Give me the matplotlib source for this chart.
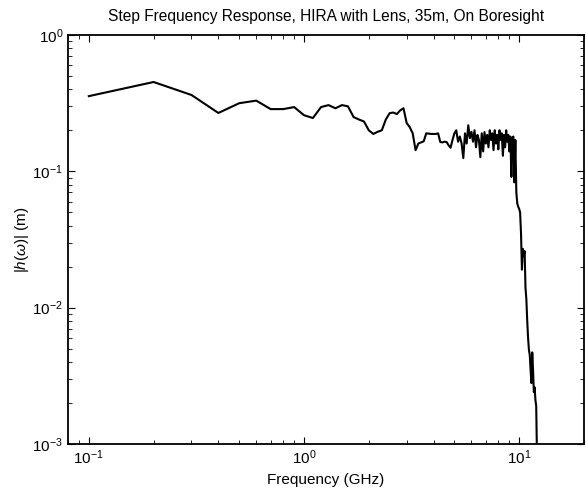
import numpy as np
import matplotlib.pyplot as plt
from matplotlib.ticker import LogLocator, NullFormatter

plt.rcParams['font.family'] = ['Liberation Sans', 'DejaVu Sans']
plt.rcParams['mathtext.fontset'] = 'custom'
plt.rcParams['mathtext.rm'] = 'Liberation Sans'
plt.rcParams['mathtext.it'] = 'Liberation Sans:italic'

# step frequencies (GHz), 0.1 GHz steps
freq = [0.1, 0.2, 0.3, 0.4, 0.5, 0.6, 0.7, 0.8, 0.9, 1.0,
        1.1, 1.2, 1.3, 1.4, 1.5, 1.6, 1.7, 1.8, 1.9, 2.0,
        2.1, 2.2, 2.3, 2.4, 2.5, 2.6, 2.7, 2.8, 2.9, 3.0,
        3.1, 3.2, 3.3, 3.4, 3.5, 3.6, 3.7, 3.8, 3.9, 4.0,
        4.1, 4.2, 4.3, 4.4, 4.5, 4.6, 4.7, 4.8, 4.9, 5.0,
        5.1, 5.2, 5.3, 5.4, 5.5, 5.6, 5.7, 5.8, 5.9, 6.0,
        6.1, 6.2, 6.3, 6.4, 6.5, 6.6, 6.7, 6.8, 6.9, 7.0,
        7.1, 7.2, 7.3, 7.4, 7.5, 7.6, 7.7, 7.8, 7.9, 8.0,
        8.1, 8.2, 8.3, 8.4, 8.5, 8.6, 8.7, 8.8, 8.9, 9.0,
        9.1, 9.2, 9.3, 9.4, 9.5, 9.6, 9.7, 9.8, 9.9, 10.0,
        10.1, 10.2, 10.3, 10.4, 10.5, 10.6, 10.7, 10.8, 10.9, 11.0,
        11.1, 11.2, 11.3, 11.4, 11.5, 11.6, 11.7, 11.8, 11.9, 12.0,
        12.1]

# |h(w)| in metres
mag = [0.356, 0.452, 0.363, 0.268, 0.316, 0.330, 0.286, 0.286, 0.296, 0.258,
       0.246, 0.296, 0.306, 0.290, 0.306, 0.300, 0.250, 0.240, 0.232, 0.200,
       0.188, 0.195, 0.200, 0.240, 0.267, 0.270, 0.263, 0.280, 0.290, 0.226,
       0.211, 0.190, 0.143, 0.160, 0.163, 0.166, 0.190, 0.189, 0.188, 0.188,
       0.188, 0.190, 0.164, 0.163, 0.165, 0.164, 0.155, 0.149, 0.170, 0.190,
       0.200, 0.165, 0.180, 0.160, 0.125, 0.190, 0.160, 0.218, 0.175, 0.195,
       0.165, 0.200, 0.150, 0.185, 0.170, 0.127, 0.190, 0.140, 0.194, 0.160,
       0.185, 0.150, 0.200, 0.170, 0.190, 0.143, 0.200, 0.160, 0.185, 0.145,
       0.200, 0.170, 0.190, 0.130, 0.185, 0.150, 0.200, 0.165, 0.185, 0.140,
       0.180, 0.091, 0.175, 0.180, 0.083, 0.170, 0.070, 0.058, 0.055, 0.053,
       0.050, 0.035, 0.019, 0.027, 0.024, 0.026, 0.014, 0.0115, 0.008, 0.006,
       0.0049, 0.0045, 0.0035, 0.0028, 0.0047, 0.0035, 0.0024, 0.0026, 0.0021, 0.0019,
       0.0008]

fig = plt.figure(figsize=(5.86, 4.97), dpi=100)
ax = fig.add_axes([0.116, 0.1066, 0.8805, 0.823])

ax.loglog(freq, mag, color='black', linewidth=1.5)
ax.set_xlim(0.08, 20)
ax.set_ylim(1e-3, 1)

ax.xaxis.set_major_locator(LogLocator(base=10))
ax.xaxis.set_minor_locator(LogLocator(base=10, subs=np.arange(2, 10)))
ax.xaxis.set_minor_formatter(NullFormatter())
ax.yaxis.set_minor_formatter(NullFormatter())
ax.tick_params(which='both', direction='in', top=True, right=True,
               labelsize=11)
ax.tick_params(which='major', length=5)
ax.tick_params(which='minor', length=3)
for s in ax.spines.values():
    s.set_linewidth(1.3)

ax.set_title('Step Frequency Response, HIRA with Lens, 35m, On Boresight',
             fontsize=11.2, pad=10)
ax.set_xlabel('Frequency (GHz)', fontsize=11)
ax.set_ylabel(r'$|h(\omega)|$ (m)', fontsize=11, labelpad=1)

fig.savefig('out.png', dpi=100)
